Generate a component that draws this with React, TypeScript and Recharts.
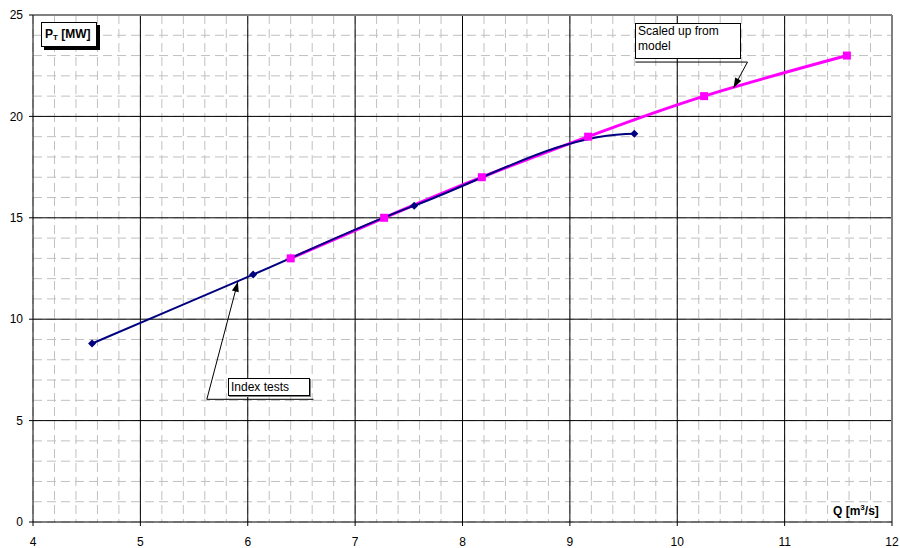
import React from "react";
import {
  ComposedChart,
  Line,
  XAxis,
  YAxis,
  CartesianGrid,
  ReferenceLine
} from "recharts";

// Index tests (measured)
const qIndex = [4.55, 6.05, 7.55, 9.6];
const pIndex = [8.8, 12.2, 15.6, 19.15];

// Scaled up from model
const qModel = [6.4, 7.27, 8.18, 9.17, 10.25, 11.58];
const pModel = [13, 15, 17, 19, 21, 23];

const xTicks = [4, 5, 6, 7, 8, 9, 10, 11, 12];
const yTicks = [0, 5, 10, 15, 20, 25];
const xMajor = [5, 6, 7, 8, 9, 10, 11];
const yMajor = [5, 10, 15, 20];
const xMinor = Array.from({ length: 41 }, (_, i) => 4 + i * 0.2);
const yMinor = Array.from({ length: 26 }, (_, i) => i);

const indexData = qIndex.map((q, i) => ({ q, p: pIndex[i] }));
const modelData = qModel.map((q, i) => ({ q, p: pModel[i] }));

const FONT = '"Liberation Sans", Arial, sans-serif';

// Excel-ish smoothing: hermite, flat tangent at the last point
const smoothFlatEnd = (ctx: any) => {
  let xs: number[] = [];
  let ys: number[] = [];
  return {
    areaStart() {},
    areaEnd() {},
    lineStart() {
      xs = [];
      ys = [];
    },
    point(x: number, y: number) {
      xs.push(+x);
      ys.push(+y);
    },
    lineEnd() {
      const n = xs.length;
      if (!n) return;
      ctx.moveTo(xs[0], ys[0]);
      if (n === 1) return;
      const m = xs.map((_, i) => {
        if (i === 0) return (ys[1] - ys[0]) / (xs[1] - xs[0]);
        if (i === n - 1) return 0;
        return (ys[i + 1] - ys[i - 1]) / (xs[i + 1] - xs[i - 1]);
      });
      for (let i = 0; i < n - 1; i++) {
        const h = xs[i + 1] - xs[i];
        ctx.bezierCurveTo(
          xs[i] + h / 3,
          ys[i] + (m[i] * h) / 3,
          xs[i + 1] - h / 3,
          ys[i + 1] - (m[i + 1] * h) / 3,
          xs[i + 1],
          ys[i + 1]
        );
      }
    }
  };
};

const Diamond = (props: any) => {
  const { cx, cy, index } = props;
  if (cx == null || cy == null) return <g key={index} />;
  return (
    <path
      key={index}
      d={`M${cx},${cy - 4}L${cx + 4},${cy}L${cx},${cy + 4}L${cx - 4},${cy}Z`}
      fill="#000080"
    />
  );
};

const Square = (props: any) => {
  const { cx, cy, index } = props;
  if (cx == null || cy == null) return <g key={index} />;
  return <rect key={index} x={cx - 4} y={cy - 4} width={8} height={8} fill="#ff00ff" />;
};

const Arrow = (props: any) => {
  const { x1, y1, x2, y2 } = props;
  const a = Math.atan2(y2 - y1, x2 - x1);
  const len = 10;
  const w = 3.5;
  const bx = x2 - len * Math.cos(a);
  const by = y2 - len * Math.sin(a);
  const pts = `${x2},${y2} ${bx - w * Math.sin(a)},${by + w * Math.cos(a)} ${bx + w * Math.sin(a)},${by - w * Math.cos(a)}`;
  return (
    <g>
      <line x1={x1} y1={y1} x2={x2} y2={y2} stroke="#000" strokeWidth={1} />
      <polygon points={pts} fill="#000" />
    </g>
  );
};

const boxStyle: React.CSSProperties = {
  position: "absolute",
  boxSizing: "border-box",
  background: "#fff",
  border: "1px solid #000",
  fontFamily: FONT,
  fontSize: 12,
  color: "#000"
};

export default function App() {
  return (
    <div style={{ position: "absolute", left: 0, top: 0, width: 900, height: 548, background: "#fff" }}>
      <ComposedChart width={900} height={548} margin={{ top: 15, right: 8, left: 0, bottom: 0 }}>
        <CartesianGrid
          stroke="#c0c0c0"
          strokeDasharray="9 5"
          horizontalValues={yMinor}
          verticalValues={xMinor}
        />
        <CartesianGrid stroke="#000" horizontalValues={yMajor} verticalValues={xMajor} />
        <XAxis
          type="number"
          dataKey="q"
          domain={[4, 12]}
          ticks={xTicks}
          interval={0}
          height={26}
          tickSize={4}
          tickMargin={11}
          axisLine={{ stroke: "#000" }}
          tickLine={{ stroke: "#000" }}
          tick={{ fill: "#000", fontSize: 12, fontFamily: FONT }}
        />
        <YAxis
          type="number"
          domain={[0, 25]}
          ticks={yTicks}
          interval={0}
          width={33}
          tickSize={4}
          tickMargin={6}
          axisLine={{ stroke: "#000" }}
          tickLine={{ stroke: "#000" }}
          tick={{ fill: "#000", fontSize: 12, fontFamily: FONT }}
        />
        <ReferenceLine y={25} stroke="#808080" strokeWidth={2} />
        <ReferenceLine x={12} stroke="#808080" strokeWidth={2} />
        <Line
          data={modelData}
          dataKey="p"
          type="natural"
          stroke="#ff00ff"
          strokeWidth={3}
          dot={Square}
          activeDot={false}
          isAnimationActive={false}
        />
        <Line
          data={indexData}
          dataKey="p"
          type={smoothFlatEnd as any}
          stroke="#000080"
          strokeWidth={2}
          dot={Diamond}
          activeDot={false}
          isAnimationActive={false}
        />
        <ReferenceLine
          segment={[{ x: 9.61, y: 22.68 }, { x: 10.654, y: 22.68 }]}
          stroke="#000"
        />
        <ReferenceLine
          segment={[{ x: 10.654, y: 22.68 }, { x: 10.524, y: 21.4 }]}
          shape={Arrow}
        />
        <ReferenceLine
          segment={[{ x: 5.619, y: 6.05 }, { x: 6.612, y: 6.05 }]}
          stroke="#000"
        />
        <ReferenceLine
          segment={[{ x: 5.619, y: 6.05 }, { x: 5.908, y: 11.85 }]}
          shape={Arrow}
        />
      </ComposedChart>

      <div
        style={{
          ...boxStyle,
          left: 41,
          top: 22,
          width: 56,
          height: 25,
          boxShadow: "3px 3px 0 #000",
          fontWeight: "bold",
          paddingLeft: 3,
          lineHeight: "23px"
        }}
      >
        P<sub style={{ fontSize: 8, verticalAlign: "-2px" }}>T</sub> [MW]
      </div>

      <div
        style={{
          ...boxStyle,
          left: 635,
          top: 23,
          width: 106,
          height: 36,
          paddingLeft: 2,
          lineHeight: "15px"
        }}
      >
        Scaled up from
        <br />
        model
      </div>

      <div
        style={{
          ...boxStyle,
          left: 228,
          top: 378,
          width: 82,
          height: 18,
          paddingLeft: 2,
          lineHeight: "16px",
          boxShadow: "1px 1px 0 #808080"
        }}
      >
        Index tests
      </div>

      <div
        style={{
          position: "absolute",
          left: 833,
          top: 503,
          fontFamily: FONT,
          fontSize: 12,
          fontWeight: "bold",
          whiteSpace: "nowrap"
        }}
      >
        Q [m<sup style={{ fontSize: 8, verticalAlign: "5px" }}>3</sup>/s]
      </div>
    </div>
  );
}
